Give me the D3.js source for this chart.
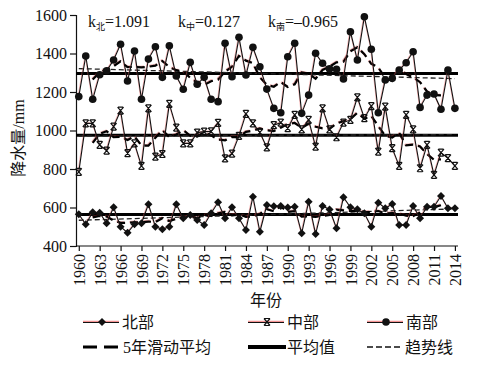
<!DOCTYPE html>
<html>
<head>
<meta charset="utf-8">
<script src="https://cdn.jsdelivr.net/npm/d3@7"></script>
<style>
  body { margin: 0; background: #fff; }
  svg { display: block; }
</style>
</head>
<body>
<svg id="chart" width="480" height="368"></svg>
<script>
// years 1960-2014
var years = d3.range(1960, 2015)
var yTicks = [400, 600, 800, 1000, 1200, 1400, 1600]
var xTicks = d3.range(1960, 2015, 3)

// annual precipitation (mm)
var north = [565, 513, 575, 573, 518, 601, 500, 469, 513, 518,
             617, 500, 487, 500, 617, 544, 561, 535, 509, 570,
             627, 544, 601, 544, 483, 656, 474, 613, 606, 608,
             600, 604, 466, 630, 462, 608, 590, 492, 653, 601,
             591, 570, 500, 625, 596, 618, 509, 509, 608, 544,
             604, 604, 660, 596, 596]
var middle = [785, 1037, 1037, 925, 895, 1020, 1103, 882, 933, 816,
              1115, 864, 878, 1138, 1015, 933, 933, 989, 994, 995,
              1040, 855, 880, 972, 1086, 1037, 990, 912, 1028, 1041,
              1012, 1081, 1006, 1055, 916, 1115, 1006, 965, 1041, 1055,
              1172, 1064, 1127, 890, 1124, 908, 816, 1081, 1006, 804,
              925, 769, 885, 856, 816]
var south = [1176, 1387, 1162, 1290, 1310, 1366, 1448, 1257, 1413, 1162,
             1371, 1435, 1276, 1440, 1283, 1214, 1354, 1240, 1276, 1162,
             1150, 1453, 1279, 1484, 1288, 1432, 1331, 1215, 1115, 1092,
             1383, 1453, 1089, 1184, 1401, 1349, 1320, 1318, 1268, 1513,
             1366, 1591, 1422, 1092, 1262, 1271, 1314, 1352, 1409, 1120,
             1184, 1190, 1110, 1314, 1115]

// trend slopes given in the figure (mm/a)
var slopes = [1.091, 0.127, -0.965]
var slopeNames = ["北", "中", "南"]
var seriesNames = ["北部", "中部", "南部"]
var markerTypes = ["diamond", "star", "circle"]

var FONT = "Liberation Serif, Noto Sans CJK SC"

var svg = d3.select("#chart")

var xScale = d3.scaleLinear().domain([1959.6, 2014.3]).range([76, 457])
var yScale = d3.scaleLinear().domain([400, 1600]).range([246, 15])

///////// axes
var yAxis = svg.append("g")
    .attr("transform", "translate(76,0)")
    .call(d3.axisLeft(yScale).tickValues(yTicks).tickSize(6).tickPadding(3).tickFormat(d3.format("d")))
yAxis.selectAll("text").attr("fill", "#111").attr("font-family", FONT).attr("font-size", 16)
yAxis.selectAll("line, path").attr("stroke", "#111").attr("stroke-width", 1.2)

var xAxis = svg.append("g")
    .attr("transform", "translate(0,246)")
    .call(d3.axisBottom(xScale).tickValues(xTicks).tickSize(5).tickSizeOuter(0).tickFormat(d3.format("d")))
xAxis.select(".domain").attr("d", "M76,0H458")
xAxis.selectAll("line, path").attr("stroke", "#111").attr("stroke-width", 1.2)
xAxis.selectAll("text")
    .attr("fill", "#111").attr("font-family", FONT).attr("font-size", 16)
    .attr("text-anchor", "end")
    .attr("transform", "rotate(-90)")
    .attr("x", -8).attr("y", 0).attr("dy", "0.35em")

svg.append("text").attr("x", 266).attr("y", 306).attr("font-family", FONT)
    .attr("text-anchor", "middle").attr("font-size", 16).attr("fill", "#111").text("年份")
svg.append("text").attr("transform", "translate(24,138) rotate(-90)").attr("font-family", FONT)
    .attr("text-anchor", "middle").attr("font-size", 16).attr("fill", "#111").text("降水量/mm")

///////// moving average (centred 5-year window)
function movingAverage(values) {
    var out = []
    for (var i = 2; i < values.length - 2; i++) {
        out.push([years[i], d3.mean(values.slice(i - 2, i + 3))])
    }
    return out
}

var line = d3.line().x(function(d) { return xScale(d[0]) }).y(function(d) { return yScale(d[1]) })

function drawMarker(g, type, x, y) {
    if (type == "diamond") {
        g.append("path").attr("d", "M0,-4L4,0L0,4L-4,0Z").attr("transform", "translate(" + x + "," + y + ")")
            .attr("fill", "#111")
    }
    else if (type == "circle") {
        g.append("circle").attr("cx", x).attr("cy", y).attr("r", 3.8).attr("fill", "#111")
    }
    else {
        g.append("path").attr("d", "M-3,-3.5L3,3.5M3,-3.5L-3,3.5M-2.5,-3.5H2.5M-2.5,3.5H2.5")
            .attr("transform", "translate(" + x + "," + y + ")")
            .attr("stroke", "#111").attr("stroke-width", 1.2).attr("fill", "none")
    }
}

var allSeries = [north, middle, south]

allSeries.forEach(function(values, s) {
    var pts = years.map(function(y, i) { return [y, values[i]] })
    var mean = d3.mean(values)

    // mean line
    svg.append("line")
        .attr("x1", 76).attr("x2", 458)
        .attr("y1", yScale(mean)).attr("y2", yScale(mean))
        .attr("stroke", "#000").attr("stroke-width", 3)

    // trend line, through the mean at the middle year
    var trend = [[1960, mean + slopes[s] * (1960 - 1987)], [2014, mean + slopes[s] * (2014 - 1987)]]
    svg.append("path").attr("d", line(trend))
        .attr("stroke", "#222").attr("stroke-width", 1.3).attr("stroke-dasharray", "5,3").attr("fill", "none")

    // 5-year moving average
    svg.append("path").attr("d", line(movingAverage(values)))
        .attr("stroke", "#c44").attr("stroke-width", 2.2).attr("stroke-dasharray", "8,5").attr("fill", "none")
        .attr("transform", "translate(-0.6,-0.6)").attr("opacity", 0.45)
    svg.append("path").attr("d", line(movingAverage(values)))
        .attr("stroke", "#000").attr("stroke-width", 2.2).attr("stroke-dasharray", "8,5").attr("fill", "none")

    // the series itself
    svg.append("path").attr("d", line(pts))
        .attr("stroke", "#e66").attr("stroke-width", 0.9).attr("fill", "none")
        .attr("transform", "translate(-0.7,-0.5)").attr("opacity", 0.55)
    svg.append("path").attr("d", line(pts))
        .attr("stroke", "#111").attr("stroke-width", 1.1).attr("fill", "none")

    var g = svg.append("g")
    pts.forEach(function(p) { drawMarker(g, markerTypes[s], xScale(p[0]), yScale(p[1])) })
})

///////// slope labels
var kX = [88, 178, 268]
slopes.forEach(function(k, i) {
    var t = svg.append("text").attr("x", kX[i]).attr("y", 27).attr("font-size", 16)
        .attr("font-family", FONT).attr("fill", "#111")
    t.append("tspan").text("k")
    t.append("tspan").text(slopeNames[i]).attr("font-size", 9).attr("dy", 3)
    t.append("tspan").text("=" + (k < 0 ? "\u2013" + Math.abs(k).toFixed(3) : k.toFixed(3))).attr("dy", -3)
})

///////// legend
var legX = [83, 248, 367]
var legRow1 = 322, legRow2 = 347
seriesNames.forEach(function(name, i) {
    var x0 = legX[i]
    svg.append("line").attr("x1", x0).attr("x2", x0 + 36).attr("y1", legRow1 - 0.7).attr("y2", legRow1 - 0.7)
        .attr("stroke", "#e66").attr("stroke-width", 1.2).attr("opacity", 0.7)
    svg.append("line").attr("x1", x0).attr("x2", x0 + 36).attr("y1", legRow1 + 0.5).attr("y2", legRow1 + 0.5)
        .attr("stroke", "#111").attr("stroke-width", 1.2)
    drawMarker(svg, markerTypes[i], x0 + 19, legRow1)
    svg.append("text").attr("x", x0 + 39).attr("y", legRow1).attr("dy", "0.36em").attr("font-family", FONT)
        .attr("font-size", 16).attr("fill", "#111").text(name)
})

svg.append("line").attr("x1", 83).attr("x2", 120).attr("y1", legRow2).attr("y2", legRow2)
    .attr("stroke", "#000").attr("stroke-width", 3.2).attr("stroke-dasharray", "14,7")
svg.append("text").attr("x", 123).attr("y", legRow2).attr("dy", "0.36em").attr("font-family", FONT)
    .attr("font-size", 16).attr("fill", "#111").text("5年滑动平均")

svg.append("line").attr("x1", 248).attr("x2", 286).attr("y1", legRow2).attr("y2", legRow2)
    .attr("stroke", "#000").attr("stroke-width", 4)
svg.append("text").attr("x", 287).attr("y", legRow2).attr("dy", "0.36em").attr("font-family", FONT)
    .attr("font-size", 16).attr("fill", "#111").text("平均值")

svg.append("line").attr("x1", 367).attr("x2", 403).attr("y1", legRow2).attr("y2", legRow2)
    .attr("stroke", "#111").attr("stroke-width", 1.5).attr("stroke-dasharray", "6,3")
svg.append("text").attr("x", 405).attr("y", legRow2).attr("dy", "0.36em").attr("font-family", FONT)
    .attr("font-size", 16).attr("fill", "#111").text("趋势线")
</script>
</body>
</html>
